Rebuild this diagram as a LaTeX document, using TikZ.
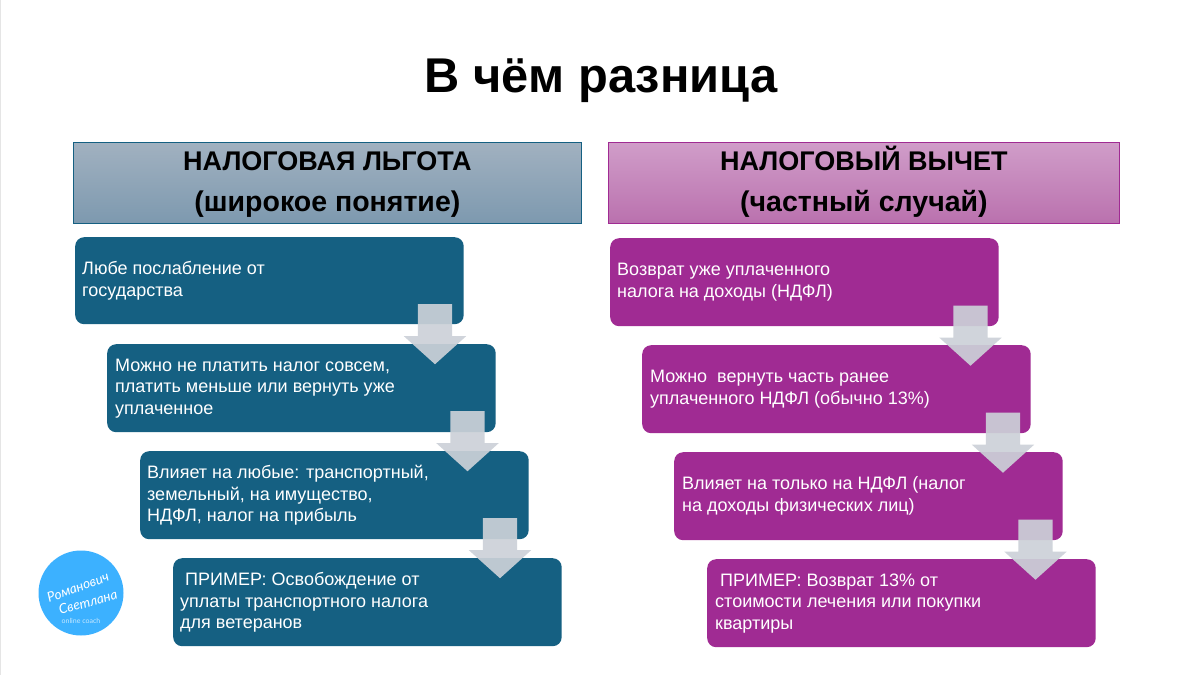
\documentclass[tikz,border=0pt]{standalone}
\usepackage{fontspec}
\setmainfont{Liberation Sans}
\newfontfamily\logofont{Lato}
\usetikzlibrary{shapes.arrows}
\definecolor{tealbox}{HTML}{156082}
\definecolor{plumbox}{HTML}{A02B93}
\definecolor{arrowgray}{HTML}{CCD1D8}
\definecolor{logoblue}{HTML}{3CB1FF}
\definecolor{htealtop}{RGB}{161,177,192}
\definecolor{htealbot}{RGB}{125,153,175}
\definecolor{hplumtop}{RGB}{208,157,201}
\definecolor{hplumbot}{RGB}{186,113,174}
\newcommand{\subhead}{\fontsize{28.5}{41}\selectfont}
\newcommand{\headdepth}{\rule[-9pt]{0pt}{9pt}}
\tikzset{
  x=1pt,y=-1pt,
  flowbox/.style={rounded corners=9pt,minimum width=388.5pt,minimum height=88pt,inner sep=0pt,anchor=north west},
  boxtext/.style={text=white,align=left,anchor=west,inner sep=0pt,font=\fontsize{18}{21.5}\selectfont},
  headbox/.style={line width=0.8pt,minimum height=81pt,inner sep=0pt,anchor=north west,align=center,font=\bfseries\fontsize{27}{41}\selectfont},
  downarrow/.style={shape=single arrow,draw=none,fill=arrowgray,fill opacity=.92,rotate=-90,anchor=tip,inner sep=0pt,
    text width=0pt,text height=17pt,text depth=17pt,
    minimum height=60pt,minimum width=62pt,single arrow head extend=14pt,single arrow tip angle=96,single arrow head indent=0pt},
}
\begin{document}
\begin{tikzpicture}
\useasboundingbox (0,0) rectangle (1200,675);
\fill[white] (0,0) rectangle (1200,675);
\fill[black!10] (0,0) rectangle (1.2,675);
\node[font=\bfseries\fontsize{48.8}{60}\selectfont,anchor=center] (title) at (601,81) {В чём разница};

\node[headbox,draw=tealbox,top color=htealtop,bottom color=htealbot,minimum width=508pt] (hl) at (73,142) {\vphantom{Й}НАЛОГОВАЯ ЛЬГОТА\\{\subhead (широкое понятие)\headdepth}};
\node[headbox,draw=plumbox,top color=hplumtop,bottom color=hplumbot,minimum width=511pt] (hr) at (608,142) {НАЛОГОВЫЙ ВЫЧЕТ\\{\subhead (частный случай)\headdepth}};

\node[flowbox,fill=tealbox,minimum height=87pt] (l1) at (75,237) {};
\node[flowbox,fill=tealbox] (l2) at (107,344) {};
\node[flowbox,fill=tealbox] (l3) at (140,451) {};
\node[flowbox,fill=tealbox] (l4) at (173,558) {};
\node[flowbox,fill=plumbox] (r1) at (610,238) {};
\node[flowbox,fill=plumbox] (r2) at (642,345) {};
\node[flowbox,fill=plumbox] (r3) at (674,452) {};
\node[flowbox,fill=plumbox] (r4) at (707,559) {};

\node[boxtext] (tl1) at (82,281) {Любе послабление от\\государства};
\node[boxtext] (tl2) at (115,388.5) {Можно не платить налог совсем,\\платить меньше или вернуть уже\\уплаченное};
\node[boxtext] (tl3) at (147,495.5) {Влияет на любые: транспортный,\\земельный, на имущество,\\НДФЛ, налог на прибыль};
\node[boxtext] (tl4) at (180,602.5) {\ ПРИМЕР: Освобождение от\\уплаты транспортного налога\\для ветеранов};
\node[boxtext] (tr1) at (617,282) {Возврат уже уплаченного\\налога на доходы (НДФЛ)};
\node[boxtext] (tr2) at (650,389) {Можно\ \ вернуть часть ранее\\уплаченного НДФЛ (обычно 13\%)};
\node[boxtext] (tr3) at (682,496) {Влияет на только на НДФЛ (налог\\на доходы физических лиц)};
\node[boxtext] (tr4) at (715,603.5) {\ ПРИМЕР: Возврат 13\% от\\стоимости лечения или покупки\\квартиры};

\node[downarrow] (al1) at (435,364.5) {};
\node[downarrow] (al2) at (467.5,471.5) {};
\node[downarrow] (al3) at (500,578.5) {};
\node[downarrow] (ar1) at (970.5,366) {};
\node[downarrow] (ar2) at (1003,473) {};
\node[downarrow] (ar3) at (1035.5,580) {};

\node[circle,fill=logoblue,minimum size=85pt,inner sep=0pt] (logo) at (81,593) {};
\node[text=white,rotate=20,inner sep=0pt,font=\logofont\itshape\fontsize{13.5}{14}\selectfont] (logoa) at (78,587) {Романович};
\node[text=white,rotate=16,inner sep=0pt,font=\logofont\itshape\fontsize{13.5}{14}\selectfont] (logob) at (88,602) {Светлана};
\node[text=white!70!logoblue,inner sep=0pt,font=\logofont\fontsize{7}{8}\selectfont] (logoc) at (81,621) {online coach};
\end{tikzpicture}
\end{document}
